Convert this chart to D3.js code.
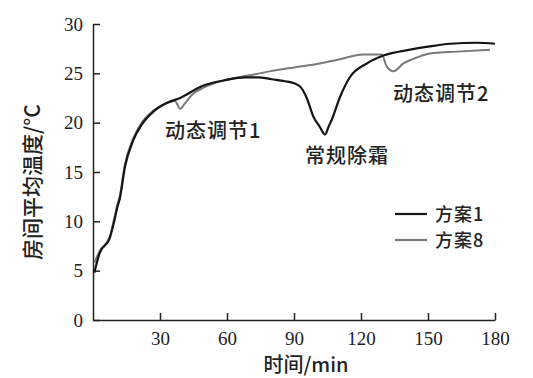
<!DOCTYPE html>
<html>
<head>
<meta charset="utf-8">
<script src="https://cdn.jsdelivr.net/npm/d3@7"></script>
<style>
  body { margin: 0; background: #fff; }
</style>
</head>
<body>
<svg id="chart" width="533" height="378"></svg>
<script>
// 方案1 (black) — time (min) and temperature (°C)
var plan1Time = [0.6, 3, 7.5, 9.5, 11, 12, 14.3, 18, 21.8, 26.9, 33, 39, 48.7, 59, 68, 74, 80, 86, 90, 93, 95.7, 98.7, 101.5, 103.9, 105.5, 106.9, 110.6, 115, 122.6, 130, 142, 150, 160, 171.8, 180];
var plan1Temp = [4.8, 6.8, 8.3, 10.0, 11.5, 12.3, 15.5, 18.2, 19.8, 21.1, 22.0, 22.5, 23.7, 24.3, 24.6, 24.6, 24.4, 24.2, 24.0, 23.6, 22.5, 20.6, 19.6, 18.8, 19.6, 20.3, 22.6, 24.6, 26.0, 26.8, 27.4, 27.7, 28.0, 28.1, 28.0];

// 方案8 (grey)
var plan8Time = [0.6, 3, 7.5, 9.5, 11, 12, 14.3, 18, 21.8, 26.9, 33, 36.7, 39, 41, 44.2, 50, 59, 70, 79, 90, 101.6, 110, 121, 129.3, 131.5, 134.5, 139, 145, 150.9, 162.9, 177.8];
var plan8Temp = [5.8, 7.0, 8.4, 10.3, 11.8, 12.6, 15.8, 18.4, 20.0, 21.2, 22.0, 22.2, 21.4, 21.9, 22.8, 23.6, 24.3, 24.8, 25.2, 25.6, 26.0, 26.4, 26.9, 26.9, 25.7, 25.2, 26.0, 26.6, 27.0, 27.2, 27.4];

var xTicks = [30, 60, 90, 120, 150, 180];
var yTicks = [0, 5, 10, 15, 20, 25, 30];

var svg = d3.select("#chart");
var cnFont = "'Noto Sans CJK SC', sans-serif";
var numFont = "'Liberation Serif', 'DejaVu Serif', serif";

var x = d3.scaleLinear().domain([0, 180]).range([93, 495]);
var y = d3.scaleLinear().domain([0, 30]).range([320, 24]);

var xAxis = svg.append("g")
    .attr("transform", "translate(0," + y(0) + ")")
    .call(d3.axisBottom(x).tickValues(xTicks).tickSize(-7).tickPadding(12).tickSizeOuter(0));
var yAxis = svg.append("g")
    .attr("transform", "translate(" + x(0) + ",0)")
    .call(d3.axisLeft(y).tickValues(yTicks).tickSize(-7).tickPadding(10).tickSizeOuter(0));

[xAxis, yAxis].forEach(function(g) {
  g.attr("font-family", numFont).attr("font-size", 19);
  g.select(".domain").attr("stroke", "#222").attr("stroke-width", 1.5);
  g.selectAll(".tick line").attr("stroke", "#222").attr("stroke-width", 1.5);
  g.selectAll(".tick text")
      .attr("font-family", numFont)
      .attr("font-size", 19)
      .attr("fill", "#222");
});

var line = d3.line()
    .x(function(d) { return x(d[0]); })
    .y(function(d) { return y(d[1]); })
    .curve(d3.curveMonotoneX);

svg.append("path")
    .datum(d3.zip(plan8Time, plan8Temp))
    .attr("fill", "none")
    .attr("stroke", "#7a7a7a")
    .attr("stroke-width", 2)
    .attr("d", line);

svg.append("path")
    .datum(d3.zip(plan1Time, plan1Temp))
    .attr("fill", "none")
    .attr("stroke", "#151515")
    .attr("stroke-width", 2.2)
    .attr("d", line);

function cnText(tx, ty, size, str) {
  return svg.append("text")
      .attr("x", tx).attr("y", ty).attr("dy", "0.38em")
      .attr("font-family", cnFont).attr("font-size", size)
      .attr("font-weight", 500)
      .attr("fill", "#222")
      .text(str);
}

// annotations
cnText(165, 130, 20, "动态调节1").attr("letter-spacing", 1);
cnText(305, 155, 20, "常规除霜").attr("letter-spacing", 1);
cnText(393, 93, 20, "动态调节2").attr("letter-spacing", 1);

// legend
var legend = [["方案1", "#151515"], ["方案8", "#7a7a7a"]];
legend.forEach(function(d, i) {
  var ly = 214 + i * 26;
  svg.append("line")
      .attr("x1", 395).attr("x2", 427)
      .attr("y1", ly).attr("y2", ly)
      .attr("stroke", d[1]).attr("stroke-width", 2.2);
  cnText(435, ly, 18, d[0]).attr("letter-spacing", 1);
});

// axis titles
cnText(306, 364, 20, "时间/min").attr("text-anchor", "middle");
cnText(0, 0, 21, "房间平均温度/°C")
    .attr("transform", "translate(32,182) rotate(-90)")
    .attr("text-anchor", "middle");
</script>
</body>
</html>
